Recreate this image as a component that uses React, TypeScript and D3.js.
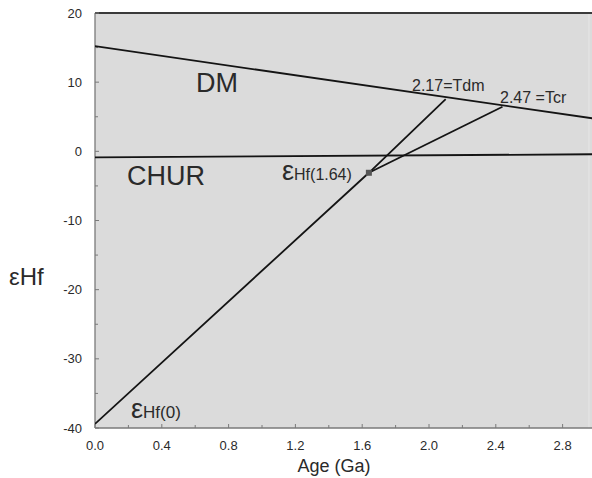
import React from "react";
import * as d3 from "d3";

const xTicks = [0, 0.4, 0.8, 1.2, 1.6, 2.0, 2.4, 2.8];
const xMinorTicks = [0.2, 0.6, 1.0, 1.4, 1.8, 2.2, 2.6];
const yTicks = [-40, -30, -20, -10, 0, 10, 20];
const yMinorTicks = [-35, -25, -15, -5, 5, 15];

const dmLine: [number, number][] = [[0, 15.2], [3.0, 4.7]];
const churLine: [number, number][] = [[0, -0.87], [3.0, -0.42]];
const tdmLine: [number, number][] = [[0, -39.4], [1.64, -3.1], [2.10, 7.55]];
const tcrLine: [number, number][] = [[1.64, -3.1], [2.44, 6.45]];
const samplePoint: [number, number] = [1.64, -3.1];

const W = 592;
const H = 478;
const L = 95;
const R = 592;
const T = 13;
const B = 428;

export default function App() {
  const x = d3.scaleLinear().domain([0, 3]).range([L, 596]);
  const y = d3.scaleLinear().domain([-40, 20]).range([B, T]);
  const line = d3.line<[number, number]>().x((d) => x(d[0])).y((d) => y(d[1]));
  const font = "'Liberation Sans', Arial, sans-serif";
  const txt = "#2a2a2a";

  return (
    <svg width={W} height={H} style={{ position: "absolute", left: 0, top: 0 }} fontFamily={font}>
      <defs>
        <clipPath id="plot">
          <rect x={L} y={T} width={R - L} height={B - T} />
        </clipPath>
      </defs>
      <rect x={L} y={T} width={R - L} height={B - T} fill="#dbdbdb" />
      <line x1={R - 3} x2={R - 3} y1={T} y2={B} stroke="#e6e6e6" strokeWidth={1} />

      {/* Axes */}
      <line x1={L} x2={L} y1={T} y2={B} stroke="#7a7a7a" strokeWidth={1.3} />
      <line x1={L} x2={R} y1={B} y2={B} stroke="#7a7a7a" strokeWidth={1.3} />
      <line x1={L} x2={R} y1={T} y2={T} stroke="#3a3a3a" strokeWidth={2.2} />

      {yTicks.map((t) => (
        <g key={"y" + t}>
          <line x1={L} x2={L + 4} y1={y(t)} y2={y(t)} stroke="#7a7a7a" strokeWidth={1} />
          <text x={82} y={y(t) + 4.5} textAnchor="end" fontSize={13} fill={txt}>
            {t}
          </text>
        </g>
      ))}
      {yMinorTicks.map((t) => (
        <line key={"ym" + t} x1={L} x2={L + 3} y1={y(t)} y2={y(t)} stroke="#7a7a7a" strokeWidth={1} />
      ))}
      {xTicks.map((t) => (
        <g key={"x" + t}>
          <line x1={x(t)} x2={x(t)} y1={B} y2={B - 4} stroke="#7a7a7a" strokeWidth={1} />
          <text x={x(t)} y={450} textAnchor="middle" fontSize={13} fill={txt}>
            {t.toFixed(1)}
          </text>
        </g>
      ))}
      {xMinorTicks.map((t) => (
        <line key={"xm" + t} x1={x(t)} x2={x(t)} y1={B} y2={B - 3} stroke="#7a7a7a" strokeWidth={1} />
      ))}

      {/* Lines */}
      <g clipPath="url(#plot)" fill="none" stroke="#141414" strokeWidth={1.8}>
        <path d={line(dmLine) || ""} />
        <path d={line(churLine) || ""} />
        <path d={line(tdmLine) || ""} />
        <path d={line(tcrLine) || ""} />
      </g>
      <rect
        x={x(samplePoint[0]) - 3}
        y={y(samplePoint[1]) - 3}
        width={6}
        height={6}
        fill="#555"
      />

      {/* Labels */}
      <text x={196} y={92} fontSize={27} fill={txt}>DM</text>
      <text x={127} y={185} fontSize={27} fill={txt}>CHUR</text>
      <text x={412} y={91} fontSize={16} fill={txt}>2.17=Tdm</text>
      <text x={500} y={103} fontSize={16} fill={txt}>2.47 =Tcr</text>
      <text x={282} y={180} fill={txt}>
        <tspan fontSize={27}>ε</tspan>
        <tspan fontSize={16}>Hf(1.64)</tspan>
      </text>
      <text x={131} y={418} fill={txt}>
        <tspan fontSize={27}>ε</tspan>
        <tspan fontSize={17}>Hf(0)</tspan>
      </text>
      <text x={9} y={285} fontSize={24} fill={txt}>εHf</text>
      <text x={334} y={472} fontSize={18} textAnchor="middle" fill={txt}>Age (Ga)</text>
    </svg>
  );
}
